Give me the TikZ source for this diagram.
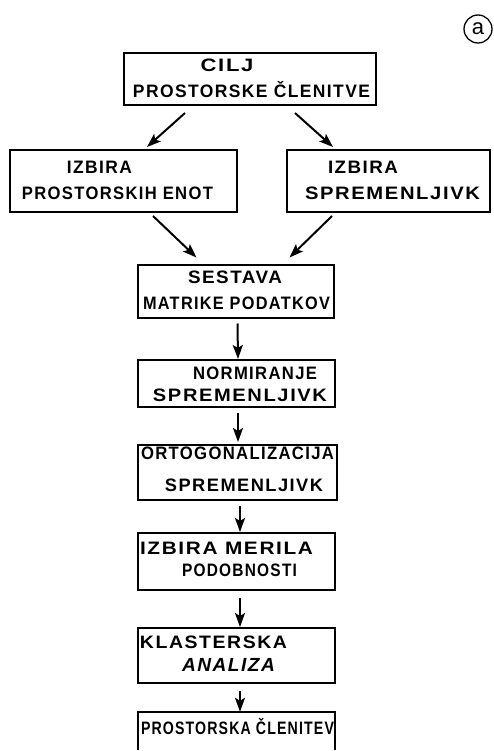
\documentclass[tikz,border=0pt]{standalone}
\usepackage{fontspec}
\setmainfont{Liberation Sans}
\usetikzlibrary{arrows.meta}
\newfontfamily\handfont[LetterSpace=8]{Liberation Sans Bold}
\newcommand{\fw}[2]{\resizebox{#1pt}{\height}{#2}}
\tikzset{
  box/.style={draw, line width=2pt, minimum width=#1, inner sep=0pt, rectangle},
  lbl/.style={font=\handfont\fontsize{18}{18}\selectfont, inner sep=0pt, anchor=center},
  arr/.style={line width=2pt, -{Stealth[length=14pt,width=10pt,inset=3pt]}},
}
\begin{document}
\begin{tikzpicture}[x=1pt,y=-1pt]
\useasboundingbox (0,0) rectangle (493,751);
% boxes
\node[box=252pt, minimum height=52pt] (b1) at (250,79) {};
\node[box=227pt, minimum height=62pt] (b2) at (123.5,181) {};
\node[box=203pt, minimum height=62pt] (b3) at (388.5,181) {};
\node[box=196pt, minimum height=53pt] (b4) at (236,291) {};
\node[box=197pt, minimum height=47pt] (b5) at (236.5,383.5) {};
\node[box=199pt, minimum height=55pt] (b6) at (237.5,472.5) {};
\node[box=197pt, minimum height=57pt] (b7) at (236.5,561.5) {};
\node[box=197pt, minimum height=55pt] (b8) at (236.5,655.5) {};
\node[minimum width=197pt, minimum height=38pt, inner sep=0pt] (b9) at (236.5,731) {};
\draw[line width=2pt] (b9.south west) -- (b9.north west) -- (b9.north east) -- (b9.south east);
% texts
\node[lbl] (t1a) at (227,65) {\fw{53}{CILJ}};
\node[lbl] (t1b) at (251.5,90) {\fw{237}{PROSTORSKE ČLENITVE}};
\node[lbl] (t2a) at (99.5,167) {\fw{65}{IZBIRA}};
\node[lbl] (t2b) at (117.5,193) {\fw{191}{PROSTORSKIH ENOT}};
\node[lbl] (t3a) at (363,167) {\fw{70}{IZBIRA}};
\node[lbl] (t3b) at (392.5,193) {\fw{175}{SPREMENLJIVK}};
\node[lbl] (t4a) at (235,277) {\fw{94}{SESTAVA}};
\node[lbl] (t4b) at (236.5,303) {\fw{187}{MATRIKE PODATKOV}};
\node[lbl] (t5a) at (255,373) {\fw{124}{NORMIRANJE}};
\node[lbl] (t5b) at (240,395) {\fw{174}{SPREMENLJIVK}};
\node[lbl] (t6a) at (237.5,453) {\fw{193}{ORTOGONALIZACIJA}};
\node[lbl] (t6b) at (244,485) {\fw{158}{SPREMENLJIVK}};
\node[lbl] (t7a) at (226.5,548) {\fw{173}{IZBIRA MERILA}};
\node[lbl] (t7b) at (239.5,570) {\fw{115}{PODOBNOSTI}};
\node[lbl] (t8a) at (213.5,642) {\fw{147}{KLASTERSKA}};
\node[lbl, font=\handfont\itshape\fontsize{19}{19}\selectfont] (t8b) at (228.5,665) {\fw{93}{ANALIZA}};
\node[lbl] (t9) at (237.5,727) {\fw{193}{PROSTORSKA ČLENITEV}};
% label a
\node[circle, draw, line width=1.3pt, minimum size=28pt, inner sep=0pt, font=\fontsize{22}{22}\selectfont] (la) at (478,29) {a};
% arrows
\draw[arr] ([xshift=-65pt,yshift=-7pt]b1.south) -- ([xshift=23.5pt,yshift=2pt]b2.north);
\draw[arr] ([xshift=45pt,yshift=-7pt]b1.south) -- ([xshift=-55.5pt,yshift=2pt]b3.north);
\draw[arr] ([xshift=29.5pt,yshift=-3pt]b2.south) -- ([xshift=-39.5pt,yshift=6pt]b4.north);
\draw[arr] ([xshift=-56.5pt,yshift=-3pt]b3.south) -- ([xshift=53.5pt,yshift=6pt]b4.north);
\draw[arr] ([xshift=1.5pt,yshift=-5pt]b4.south) -- ([xshift=1.5pt]b5.north);
\draw[arr] ([xshift=1.5pt,yshift=-5pt]b5.south) -- ([xshift=0.5pt,yshift=2pt]b6.north);
\draw[arr] ([xshift=2.5pt,yshift=-5pt]b6.south) -- ([xshift=3.5pt]b7.north);
\draw[arr] ([xshift=3.5pt,yshift=-7pt]b7.south) -- ([xshift=3.5pt]b8.north);
\draw[arr] ([xshift=3.5pt,yshift=-7pt]b8.south) -- ([xshift=3.5pt]b9.north);
\end{tikzpicture}
\end{document}
